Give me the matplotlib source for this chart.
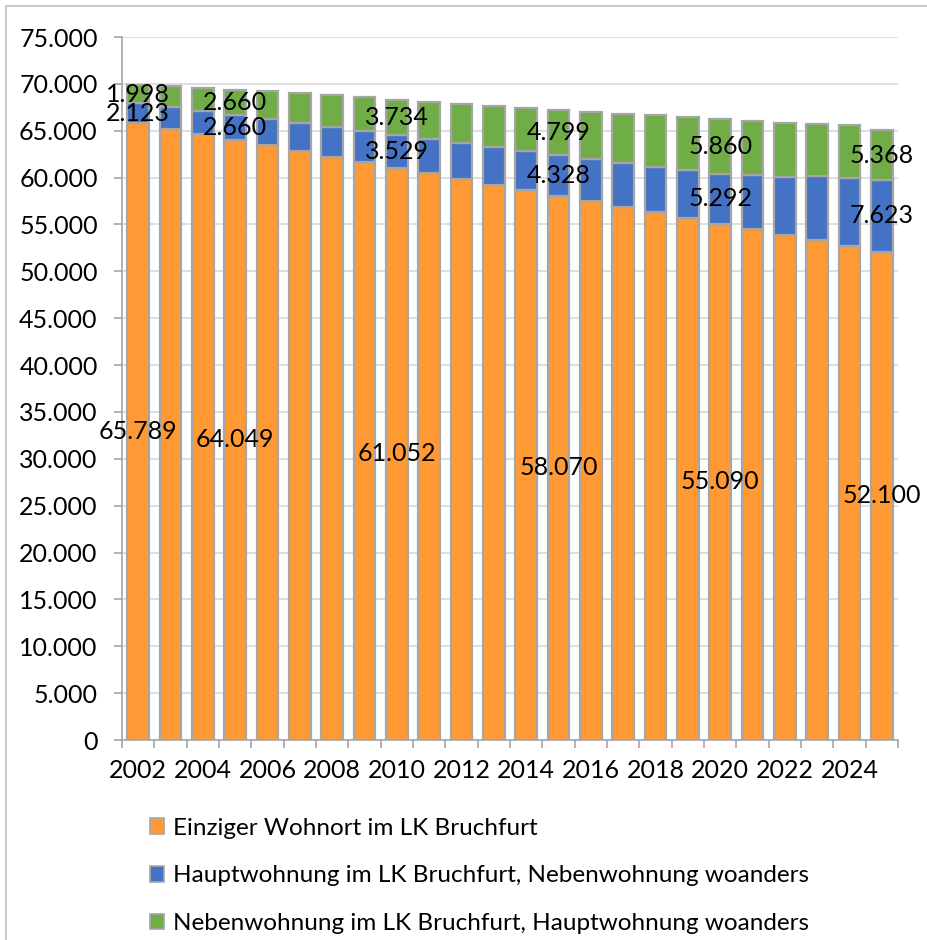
import numpy as np
import matplotlib
matplotlib.use("Agg")
import matplotlib.pyplot as plt
from matplotlib.patches import Rectangle, Patch

plt.rcParams['font.family'] = ['Lato', 'DejaVu Sans']

# data
years = list(range(2002, 2026))
einziger = [65789, 65210, 64600, 64049, 63450, 62850, 62250, 61650,
            61052, 60450, 59860, 59260, 58670, 58070, 57470, 56870,
            56280, 55690, 55090, 54490, 53890, 53290, 52700, 52100]
haupt = [2123, 2300, 2480, 2660, 2800, 3000, 3180, 3350,
         3529, 3690, 3850, 4000, 4170, 4328, 4520, 4710,
         4900, 5100, 5292, 5760, 6200, 6900, 7300, 7623]
neben = [1998, 2220, 2500, 2660, 2950, 3150, 3350, 3550,
         3734, 3950, 4150, 4350, 4600, 4799, 5000, 5200,
         5450, 5650, 5860, 5800, 5720, 5570, 5600, 5368]
labelled_years = [2002, 2005, 2010, 2015, 2020, 2025]
series_names = ["Einziger Wohnort im LK Bruchfurt",
                "Hauptwohnung im LK Bruchfurt, Nebenwohnung woanders",
                "Nebenwohnung im LK Bruchfurt, Hauptwohnung woanders"]
colors = ["#FF9933", "#4472C4", "#70AD47"]
edge = "#A6A6A6"
fs = 18


def de_fmt(v):
    return f"{v:,.0f}".replace(",", ".")


fig = plt.figure(figsize=(9.28, 9.40), dpi=100)
ax = fig.add_axes([122 / 928, 1 - 740 / 940, (898 - 122) / 928, (740 - 37) / 940])

# outer chart frame
fig.patches.append(Rectangle((6 / 928, -0.1), 1.2, 1 - 6 / 940 + 0.1,
                             transform=fig.transFigure, fill=False,
                             edgecolor="#BFBFBF", linewidth=1.2))

x = np.arange(len(years))
width = 0.68
bottom = np.zeros(len(years))
containers = []
for vals, col in zip([einziger, haupt, neben], colors):
    vals = np.array(vals, dtype=float)
    bc = ax.bar(x, vals, width, bottom=bottom, color=col, edgecolor=edge,
                linewidth=1.6, zorder=3)
    containers.append(bc)
    bottom += vals

for bc, vals in zip(containers, [einziger, haupt, neben]):
    labels = [de_fmt(v) if y in labelled_years else "" for y, v in zip(years, vals)]
    ax.bar_label(bc, labels=labels, label_type="center", fontsize=fs, color="black", zorder=5)

ax.set_ylim(0, 75000)
ax.set_xlim(-0.5, len(years) - 0.5)
ax.set_yticks(np.arange(0, 75001, 5000))
ax.set_yticklabels([de_fmt(v) for v in np.arange(0, 75001, 5000)], fontsize=fs)
ax.yaxis.grid(True, color="#D9D9D9", linewidth=1.2, zorder=0)
ax.set_axisbelow(True)

ax.set_xticks(x[::2])
ax.set_xticklabels([str(y) for y in years[::2]], fontsize=fs)
ax.set_xticks(np.arange(-0.5, len(years)), minor=True)
ax.tick_params(axis="x", which="major", length=0, pad=14)
ax.tick_params(axis="x", which="minor", length=5.5, color=edge, width=1.2)
ax.tick_params(axis="y", length=5.5, color=edge, width=1.2, pad=12)

for s in ["top", "right"]:
    ax.spines[s].set_visible(False)
for s in ["left", "bottom"]:
    ax.spines[s].set_color(edge)
    ax.spines[s].set_linewidth(1.2)

handles = [Patch(facecolor=c, edgecolor=edge, linewidth=1.2) for c in colors]
fig.legend(handles, series_names, loc="upper left",
           bbox_to_anchor=(140 / 928, 1 - 808 / 940), frameon=False,
           fontsize=17.5, handlelength=0.6, handleheight=0.6,
           handletextpad=0.35, labelspacing=1.1, borderaxespad=0)

fig.savefig("out.png", dpi=100)
